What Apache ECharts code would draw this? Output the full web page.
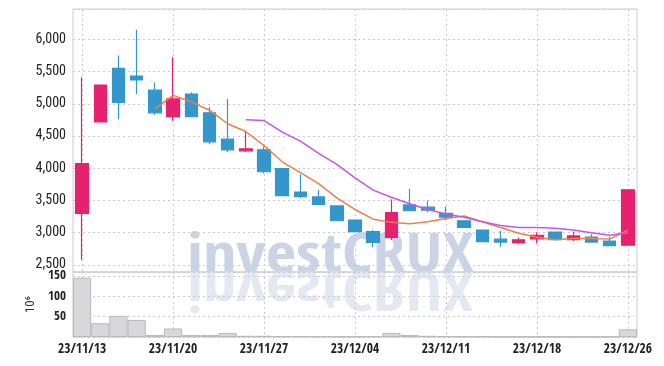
<!DOCTYPE html>
<html>
<head>
<meta charset="utf-8">
<script src="https://cdn.jsdelivr.net/npm/echarts@6/dist/echarts.min.js"></script>
<style>html,body{margin:0;padding:0;background:#fff;}#chart{width:664px;height:366px;}</style>
</head>
<body>
<div id="chart"></div>
<script>
const dates = ['23/11/13','23/11/14','23/11/15','23/11/16','23/11/17','23/11/20','23/11/21','23/11/22','23/11/23','23/11/24','23/11/27','23/11/28','23/11/29','23/11/30','23/12/01','23/12/04','23/12/05','23/12/06','23/12/07','23/12/08','23/12/11','23/12/12','23/12/13','23/12/14','23/12/15','23/12/18','23/12/19','23/12/20','23/12/21','23/12/22','23/12/26'];
const opens  = [3300,4720,5550,5430,5210,4800,5150,4860,4450,4270,4285,3995,3630,3555,3415,3195,3015,2925,3430,3395,3300,3185,3040,2900,2845,2905,3010,2890,2930,2870,2805];
const closes = [4070,5290,5020,5370,4860,5075,4800,4410,4285,4300,3945,3575,3560,3440,3185,3015,2850,3310,3340,3350,3240,3080,2860,2855,2890,2960,2890,2950,2855,2800,3665];
const lows   = [2580,4705,4760,5150,4830,4735,4790,4370,4250,4250,3920,3570,3535,3425,3180,3010,2775,2885,3335,3315,3195,3075,2855,2775,2825,2835,2885,2870,2855,2795,2800];
const highs  = [5410,5290,5750,6150,5330,5720,5180,4950,5075,4570,4335,3995,3905,3665,3420,3200,3040,3520,3680,3500,3405,3190,3045,3030,2925,3005,3010,3015,2975,2940,3665];
const ma5  = ['-','-','-','-',4920,5130,5030,4900,4690,4570,4350,4100,3930,3760,3540,3360,3210,3160,3140,3170,3220,3260,3170,3080,2990,2930,2890,2910,2910,2900,3040];
const ma10 = ['-','-','-','-','-','-','-','-','-',4750,4740,4560,4420,4230,4060,3850,3660,3550,3450,3360,3290,3240,3170,3110,3080,3080,3070,3040,3000,2960,3000];
const volumes = [146,34,52,42,5,21,5,5,10,3,3,2,2,1.5,1.5,1.5,2,10,5,3,2,1.5,1.5,1,1,1,1,1,1,1,19];

const candleData = dates.map((d, i) => [opens[i], closes[i], lows[i], highs[i]]);
const CFONT = '"Open Sans Condensed", "Roboto Condensed", sans-serif';
const RFONT = '"Roboto Condensed", "Open Sans Condensed", sans-serif';
const gridLine = {show: true, lineStyle: {color: '#c8cbd6', type: [2, 3], width: 1}};
const vLine = {show: true, interval: 4, alignWithLabel: true, lineStyle: {color: '#c8cbd6', type: [2, 3], width: 1}};
const fmt = v => String(v).replace(/\B(?=(\d{3})+(?!\d))/g, ',');

const chart = echarts.init(document.getElementById('chart'), null, {renderer: 'canvas'});
chart.setOption({
  animation: false,
  backgroundColor: '#fff',
  grid: [
    {left: 73, right: 27, top: 9, height: 263, show: true, borderColor: '#cccccc', borderWidth: 1, backgroundColor: 'transparent'},
    {left: 73, right: 27, top: 272, height: 65, show: true, borderColor: '#cccccc', borderWidth: 1, backgroundColor: 'transparent'}
  ],
  xAxis: [
    {type: 'category', gridIndex: 0, data: dates, boundaryGap: true,
     axisLine: {show: false}, axisTick: {show: false}, axisLabel: {show: false}, splitLine: vLine},
    {type: 'category', gridIndex: 1, data: dates, boundaryGap: true,
     axisLine: {show: false}, axisTick: {show: false},
     axisLabel: {interval: 4, color: '#222', fontFamily: CFONT, fontSize: 13.5, fontWeight: 'bold', margin: 5},
     splitLine: vLine}
  ],
  yAxis: [
    {type: 'value', gridIndex: 0, min: 2390, max: 6470, splitNumber: 8, scale: true,
     axisLine: {show: false}, axisTick: {show: false},
     axisLabel: {color: '#222', fontFamily: RFONT, fontSize: 14, margin: 7, formatter: fmt, showMinLabel: false, showMaxLabel: false},
     splitLine: gridLine},
    {type: 'value', gridIndex: 1, min: 0, max: 160, interval: 50,
     name: '10\u2076', nameLocation: 'middle', nameGap: 24, nameRotate: 90,
     nameTextStyle: {color: '#333', fontFamily: RFONT, fontSize: 13},
     axisLine: {show: false}, axisTick: {show: false},
     axisLabel: {color: '#222', fontFamily: CFONT, fontSize: 13, fontWeight: 'bold', margin: 7, showMinLabel: false, showMaxLabel: false},
     splitLine: gridLine}
  ],
  graphic: [
    {type: 'text', x: 187, y: 258, scaleX: 1.22, z: 0,
     style: {text: 'investCRUX', font: 'bold 54px ' + CFONT, fill: '#ccd3e5', verticalAlign: 'middle', align: 'left'}},
    {type: 'group', x: 0, y: 272, scaleY: -1, z: 0,
     children: [{type: 'text', x: 187, y: 258 - 272, scaleX: 1.22, z: 0,
       style: {text: 'investCRUX', font: 'bold 54px ' + CFONT, fill: '#e4e8f1', verticalAlign: 'middle', align: 'left'}}]}
  ],
  series: [
    {type: 'candlestick', name: 'price', xAxisIndex: 0, yAxisIndex: 0, data: candleData, barWidth: 13, z: 5,
     itemStyle: {color: '#e6226e', color0: '#3397cb', borderColor: '#e6226e', borderColor0: '#3397cb', borderWidth: 1.2}},
    {type: 'line', name: 'MA5', xAxisIndex: 0, yAxisIndex: 0, data: ma5, symbol: 'none', z: 6,
     lineStyle: {color: '#ee7f49', width: 1.5}},
    {type: 'line', name: 'MA10', xAxisIndex: 0, yAxisIndex: 0, data: ma10, symbol: 'none', z: 6,
     lineStyle: {color: '#c656ea', width: 1.5}},
    {type: 'bar', name: 'volume', xAxisIndex: 1, yAxisIndex: 1, data: volumes, barCategoryGap: '0%', z: 5,
     itemStyle: {color: '#d8d8db', borderColor: '#b9b9bd', borderWidth: 1}}
  ]
});
</script>
</body>
</html>
